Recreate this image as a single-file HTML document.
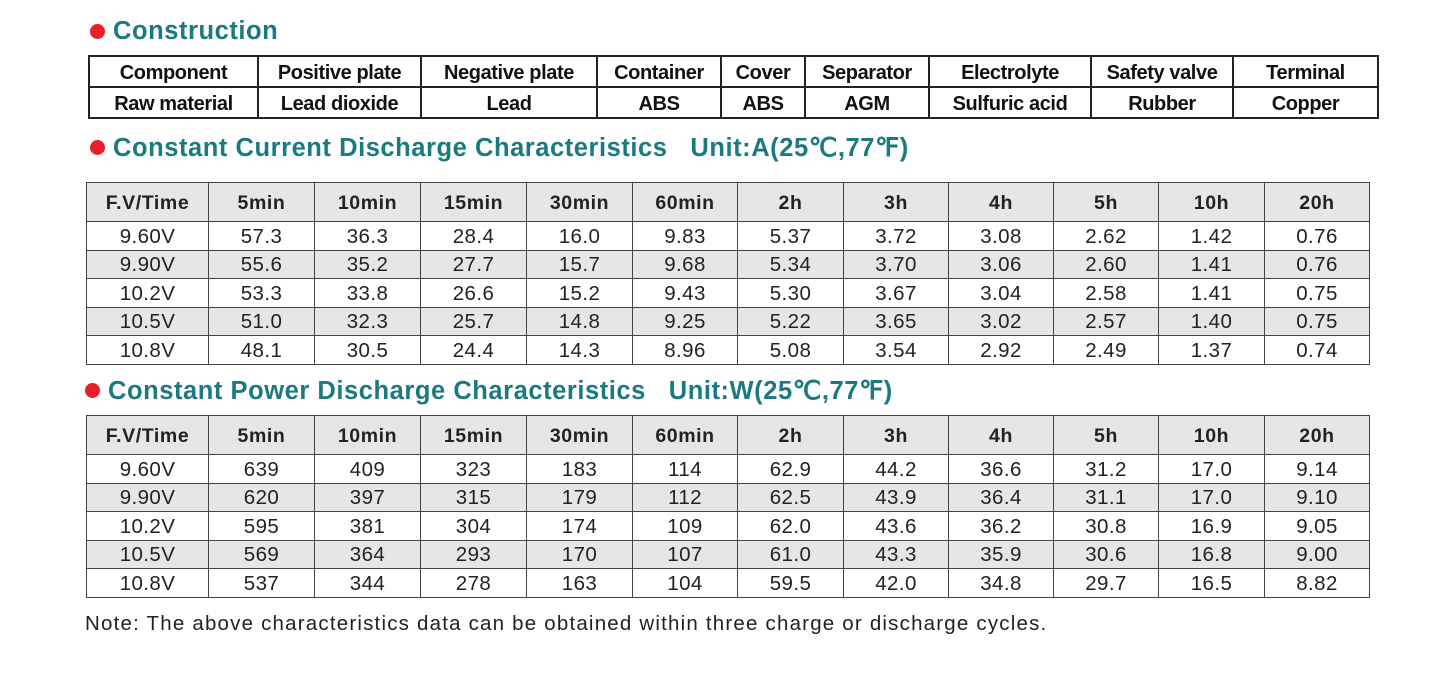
<!DOCTYPE html>
<html><head><meta charset="utf-8"><style>
body{margin:0;width:1455px;height:699px;background:#fff;position:relative;font-family:"Liberation Sans",Arial,sans-serif;color:#222;overflow:hidden}
.t{position:absolute;font-weight:bold;color:#1b7a80;font-size:25.5px;letter-spacing:0.55px;white-space:nowrap}
.dot{position:absolute;width:15px;height:15px;border-radius:50%;background:#e8202a}
table{position:absolute;border-collapse:collapse;table-layout:fixed}
td{text-align:center;padding:0;overflow:hidden;white-space:nowrap}
.c td{border:2px solid #222;font-weight:bold;font-size:20px;height:27px;line-height:22px;padding-top:2px;letter-spacing:-0.4px;color:#111}
.d td{border:1.5px solid #444;font-size:20.5px;height:25.5px;line-height:22px;padding-top:2px;letter-spacing:0.4px;color:#222}
.d tr.h td{background:#e5e6e8;font-weight:bold;height:37px;padding-top:1px;font-size:19.5px;letter-spacing:0.6px}
.d tr.g td{background:#e5e6e8}
.note{position:absolute;left:85px;top:612px;font-size:20.5px;letter-spacing:1.2px;color:#222;white-space:nowrap}
</style></head><body>
<div class="dot" style="left:90px;top:24px"></div>
<div class="t" style="left:113px;top:17px">Construction</div>
<table class="c" style="left:88px;top:55px;width:1289px">
<colgroup><col style="width:169px"><col style="width:163px"><col style="width:176px"><col style="width:124px"><col style="width:84px"><col style="width:124px"><col style="width:162px"><col style="width:142px"><col style="width:145px"></colgroup>
<tr><td>Component</td><td>Positive plate</td><td>Negative plate</td><td>Container</td><td>Cover</td><td>Separator</td><td>Electrolyte</td><td>Safety valve</td><td>Terminal</td></tr>
<tr><td>Raw material</td><td>Lead dioxide</td><td>Lead</td><td>ABS</td><td>ABS</td><td>AGM</td><td>Sulfuric acid</td><td>Rubber</td><td>Copper</td></tr>
</table>

<div class="dot" style="left:90px;top:140px"></div>
<div class="t" style="left:113px;top:133px">Constant Current Discharge Characteristics&nbsp;&nbsp;&nbsp;Unit:A(25℃,77℉)</div>
<table class="d" style="left:86px;top:182px;width:1283px">
<colgroup><col style="width:122px"><col style="width:106px"><col style="width:106px"><col style="width:106px"><col style="width:106px"><col style="width:105px"><col style="width:106px"><col style="width:105px"><col style="width:105px"><col style="width:105px"><col style="width:106px"><col style="width:105px"></colgroup>
<tr class="h"><td>F.V/Time</td><td>5min</td><td>10min</td><td>15min</td><td>30min</td><td>60min</td><td>2h</td><td>3h</td><td>4h</td><td>5h</td><td>10h</td><td>20h</td></tr>
<tr><td>9.60V</td><td>57.3</td><td>36.3</td><td>28.4</td><td>16.0</td><td>9.83</td><td>5.37</td><td>3.72</td><td>3.08</td><td>2.62</td><td>1.42</td><td>0.76</td></tr>
<tr class="g"><td>9.90V</td><td>55.6</td><td>35.2</td><td>27.7</td><td>15.7</td><td>9.68</td><td>5.34</td><td>3.70</td><td>3.06</td><td>2.60</td><td>1.41</td><td>0.76</td></tr>
<tr><td>10.2V</td><td>53.3</td><td>33.8</td><td>26.6</td><td>15.2</td><td>9.43</td><td>5.30</td><td>3.67</td><td>3.04</td><td>2.58</td><td>1.41</td><td>0.75</td></tr>
<tr class="g"><td>10.5V</td><td>51.0</td><td>32.3</td><td>25.7</td><td>14.8</td><td>9.25</td><td>5.22</td><td>3.65</td><td>3.02</td><td>2.57</td><td>1.40</td><td>0.75</td></tr>
<tr><td>10.8V</td><td>48.1</td><td>30.5</td><td>24.4</td><td>14.3</td><td>8.96</td><td>5.08</td><td>3.54</td><td>2.92</td><td>2.49</td><td>1.37</td><td>0.74</td></tr>
</table>

<div class="dot" style="left:85px;top:383px"></div>
<div class="t" style="left:108px;top:376px">Constant Power Discharge Characteristics&nbsp;&nbsp;&nbsp;Unit:W(25℃,77℉)</div>
<table class="d" style="left:86px;top:415px;width:1283px">
<colgroup><col style="width:122px"><col style="width:106px"><col style="width:106px"><col style="width:106px"><col style="width:106px"><col style="width:105px"><col style="width:106px"><col style="width:105px"><col style="width:105px"><col style="width:105px"><col style="width:106px"><col style="width:105px"></colgroup>
<tr class="h"><td>F.V/Time</td><td>5min</td><td>10min</td><td>15min</td><td>30min</td><td>60min</td><td>2h</td><td>3h</td><td>4h</td><td>5h</td><td>10h</td><td>20h</td></tr>
<tr><td>9.60V</td><td>639</td><td>409</td><td>323</td><td>183</td><td>114</td><td>62.9</td><td>44.2</td><td>36.6</td><td>31.2</td><td>17.0</td><td>9.14</td></tr>
<tr class="g"><td>9.90V</td><td>620</td><td>397</td><td>315</td><td>179</td><td>112</td><td>62.5</td><td>43.9</td><td>36.4</td><td>31.1</td><td>17.0</td><td>9.10</td></tr>
<tr><td>10.2V</td><td>595</td><td>381</td><td>304</td><td>174</td><td>109</td><td>62.0</td><td>43.6</td><td>36.2</td><td>30.8</td><td>16.9</td><td>9.05</td></tr>
<tr class="g"><td>10.5V</td><td>569</td><td>364</td><td>293</td><td>170</td><td>107</td><td>61.0</td><td>43.3</td><td>35.9</td><td>30.6</td><td>16.8</td><td>9.00</td></tr>
<tr><td>10.8V</td><td>537</td><td>344</td><td>278</td><td>163</td><td>104</td><td>59.5</td><td>42.0</td><td>34.8</td><td>29.7</td><td>16.5</td><td>8.82</td></tr>
</table>
<div class="note">Note: The above characteristics data can be obtained within three charge or discharge cycles.</div>
</body></html>
